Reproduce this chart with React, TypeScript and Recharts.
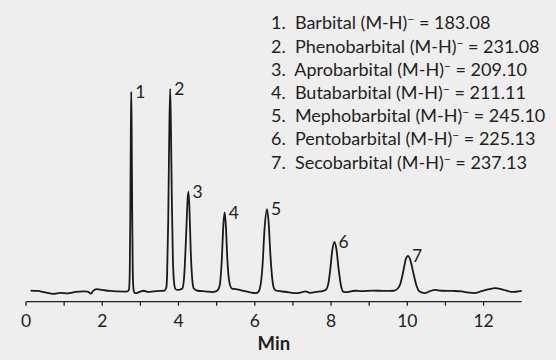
import { LineChart, Line, XAxis, YAxis, LabelList, Label, Legend } from 'recharts';

// retention time (min) / detector response
const TIMES = [
  0.12, 0.3, 0.5, 0.72, 0.9, 1.09, 1.3, 1.5, 1.62, 1.7, 1.76, 1.85, 2.0, 2.2, 2.4, 2.58, 2.66,
  2.7, 2.72, 2.735, 2.75, 2.76, 2.77, 2.785, 2.8, 2.82, 2.86, 2.92, 3.0, 3.09, 3.2, 3.35, 3.5, 3.62, 3.68,
  3.7, 3.73, 3.755, 3.78, 3.8, 3.825, 3.85, 3.88, 3.92, 3.98, 4.04,
  4.1, 4.15, 4.2, 4.24, 4.26, 4.285, 4.32, 4.36, 4.4, 4.5, 4.7, 4.9, 5.02,
  5.08, 5.13, 5.18, 5.21, 5.24, 5.28, 5.33, 5.4, 5.5, 5.7, 5.9, 6.03, 6.1,
  6.15, 6.2, 6.26, 6.32, 6.36, 6.41, 6.46, 6.52, 6.6, 6.8, 7.05, 7.2, 7.33, 7.45, 7.6, 7.8, 7.88,
  7.93, 7.98, 8.03, 8.09, 8.14, 8.2, 8.26, 8.33, 8.4, 8.55, 8.63, 8.8, 9.1, 9.4, 9.65, 9.75,
  9.82, 9.9, 9.96, 10.02, 10.08, 10.16, 10.24, 10.32, 10.45, 10.6, 10.72, 10.9, 11.2, 11.42, 11.6, 11.75,
  11.95, 12.15, 12.3, 12.5, 12.65, 12.73, 12.85, 13.0,
];
const SIGNAL = [
  0.5, 0.3, -0.4, -1.1, -0.6, -0.9, -0.2, 0.1, 0, -1.0, 0.3, 1.2, 0.8, 0.3, 0.1, 0, 0.1,
  1, 8, 35, 80, 98.5, 82, 40, 10, 1, -0.8, -0.6, 0, 0.4, -0.2, 0.1, 0.3, 0.4, 2,
  8, 35, 75, 100, 82, 45, 18, 5, 1.2, 0.8, 1.0,
  1.5, 8, 28, 46, 49.3, 42, 20, 6, 1.5, 0.4, 0.1, -0.3, 0.5,
  3, 14, 34, 39, 33, 16, 5, 1.5, 1.2, 0.4, -0.5, -0.8, 0,
  3, 12, 32, 40.7, 35, 18, 6, 1, 0.3, -0.1, -0.8, -0.5, 0.1, -0.6, -0.2, 0.3, 1.2,
  4, 11, 20, 24.5, 21, 11, 3, -0.2, -0.3, 0.2, 0.4, 0.2, 0.5, 0.3, 0.4, 1.5,
  4, 10.5, 16, 17.6, 15.5, 9, 3, 0, -0.8, 0.2, 0.8, 0.4, 0.3, 0.1, -0.5, -0.8,
  0.2, 1.2, 1.7, 1.0, 0.2, -0.2, -0.1, 0.3,
];

// peak apex times and their numbers
const PEAK_TIMES = [2.76, 3.78, 4.26, 5.21, 6.32, 8.09, 10.02];
const PEAK_NUMS = ['1', '2', '3', '4', '5', '6', '7'];

const COMPOUNDS = ['Barbital', 'Phenobarbital', 'Aprobarbital', 'Butabarbital', 'Mephobarbital', 'Pentobarbital', 'Secobarbital'];
const MASSES = ['183.08', '231.08', '209.10', '211.11', '245.10', '225.13', '237.13'];

const X_TICKS = [0, 1, 2, 3, 4, 5, 6, 7, 8, 9, 10, 11, 12];

const data = TIMES.map((t, i) => {
  const p = PEAK_TIMES.indexOf(t);
  return { t, v: SIGNAL[i], label: p >= 0 ? PEAK_NUMS[p] : undefined };
});

const FONT = 'Lato, "Open Sans", sans-serif';
const INK = '#231f20';

function CompoundList() {
  return (
    <div style={{ fontFamily: FONT, fontSize: 18, lineHeight: '23.2px', color: INK, whiteSpace: 'nowrap' }}>
      {COMPOUNDS.map((name, i) => (
        <div key={name}>
          {PEAK_NUMS[i]}.&nbsp; {name} (M-H)
          <sup style={{ fontSize: 12, lineHeight: 0, verticalAlign: 6 }}>−</sup> = {MASSES[i]}
        </div>
      ))}
    </div>
  );
}

export default function App() {
  return (
    <div style={{ width: 556, height: 360, background: '#eeeeee', position: 'relative' }}>
      <style>{`body{margin:0}`}</style>
      <LineChart width={556} height={360} data={data} margin={{ top: 78.7, right: 34.3, bottom: 6.3, left: 26 }}>
        <XAxis
          dataKey="t"
          type="number"
          domain={[0, 13]}
          ticks={X_TICKS}
          tickFormatter={(v) => (v % 2 === 0 ? String(v) : '')}
          height={52}
          tickSize={4}
          tickMargin={9}
          stroke={INK}
          strokeWidth={1.3}
          tick={{ fill: INK, fontSize: 17.5, fontFamily: FONT }}
        >
          <Label value="Min" position="insideBottom" offset={4} style={{ fill: INK, fontSize: 18.5, fontWeight: 700, fontFamily: FONT }} />
        </XAxis>
        <YAxis hide domain={[-5, 105]} />
        <Legend
          layout="vertical"
          align="center"
          verticalAlign="middle"
          wrapperStyle={{ left: 271, top: 11.4, width: 'auto' }}
          content={() => <CompoundList />}
        />
        <Line
          type="monotone"
          dataKey="v"
          stroke="#1a1a1a"
          strokeWidth={1.8}
          dot={false}
          isAnimationActive={false}
        >
          <LabelList dataKey="label" position="right" offset={4} style={{ fill: INK, fontSize: 17.5, fontFamily: FONT }} />
        </Line>
      </LineChart>
    </div>
  );
}
